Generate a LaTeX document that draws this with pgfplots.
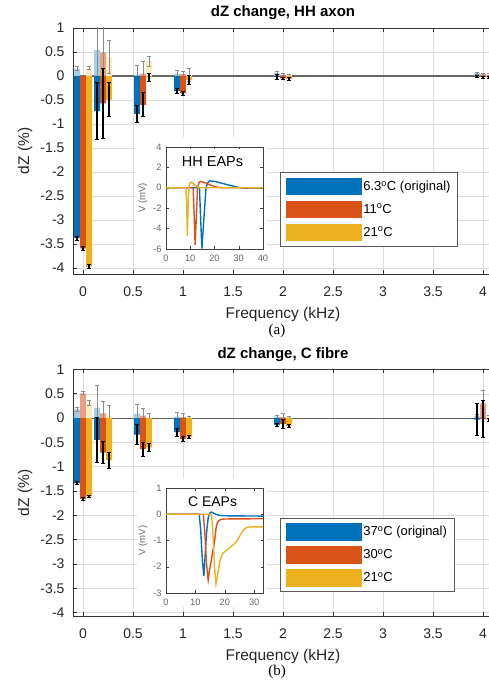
\documentclass[border=0pt]{standalone}
\usepackage{fontspec}
\setmainfont{Liberation Sans}
\newfontfamily\seriffont{Liberation Serif}
\usepackage{pgfplots}
\usepackage{pgfplotstable}
\pgfplotsset{compat=1.18}
\definecolor{mblue}{RGB}{0,114,189}
\definecolor{morange}{RGB}{217,83,25}
\definecolor{myellow}{RGB}{237,177,32}
\colorlet{lblue}{mblue!35!white}
\colorlet{lorange}{morange!55!white}
\colorlet{lyellow}{myellow!25!white}

% columns: group position x, then value and error of each bar
% d = dark bar, l = light bar; b/r/y = blue/red/yellow
\pgfplotstableread{
x    db    dbe   dr    dre   dy    dye   lb    lbe   lr    lre   ly    lye
0    -3.38 0.04  -3.59 0.04  -3.97 0.04  0.15  0.04  0.00  0.00  0.17  0.04
0.2  -0.73 0.60  -0.57 0.73  -0.49 0.36  0.54  0.60  0.49  0.65  0.40  0.35
0.6  -0.79 0.18  -0.60 0.25  -0.03 0.08  0.03  0.20  0.05  0.25  0.31  0.10
1    -0.31 0.05  -0.36 0.04  -0.08 0.10  0.05  0.06  0.04  0.06  0.02  0.14
2    -0.02 0.05  -0.05 0.03  -0.06 0.03  0.06  0.04  0.03  0.02  0.02  0.02
4    -0.01 0.02  -0.02 0.02  -0.03 0.02  0.06  0.02  0.04  0.02  0.03  0.02
}\tabA

\pgfplotstableread{
x    db    dbe   dr    dre   dy    dye   lb    lbe   lr    lre   ly    lye
0    -1.34 0.03  -1.66 0.03  -1.61 0.03  0.18  0.05  0.51  0.03  0.31  0.05
0.2  -0.45 0.47  -0.71 0.23  -0.87 0.16  0.21  0.46  0.10  0.24  0.05  0.21
0.6  -0.34 0.21  -0.64 0.14  -0.60 0.08  0.09  0.20  0.05  0.14  0.02  0.07
1    -0.29 0.08  -0.43 0.05  -0.39 0.03  0.03  0.09  0.02  0.07  0.01  0.03
2    -0.14 0.03  -0.12 0.10  -0.16 0.03  0.03  0.03  0.02  0.08  0.02  0.02
4    -0.03 0.33  -0.02 0.38  -0.03 0.03  0.05  0.03  0.30  0.28  0.03  0.03
}\tabB

\pgfplotsset{
  mainax/.style={
    scale only axis, anchor=south west, width=420pt,
    xmin=-0.1, xmax=4.1,
    xtick={0,0.5,1,1.5,2,2.5,3,3.5,4},
    xticklabels={0,0.5,1,1.5,2,2.5,3,3.5,4},
    ytick={-4,-3.5,-3,-2.5,-2,-1.5,-1,-0.5,0,0.5,1},
    yticklabels={-4,-3.5,-3,-2.5,-2,-1.5,-1,-0.5,0,0.5,1},
    /pgf/number format/assume math mode=true,
    tick label style={font=\fontsize{14}{14}\selectfont, text=black!85},
    xticklabel style={yshift=-9pt},
    yticklabel style={xshift=-5pt},
    grid=major, major grid style={black!13, line width=0.5pt},
    axis line style={black!80, line width=0.9pt},
    tick style={black!80, line width=0.8pt},
    major tick length=4pt, tick align=inside, ytick pos=left,
    xlabel={Frequency (kHz)}, ylabel={dZ (\%)},
    label style={font=\fontsize{15.5}{16}\selectfont, text=black!85},
    xlabel style={at={(axis description cs:0.5,-0.166)}, anchor=center},
    ylabel style={at={(axis description cs:-0.1143,0.5)}, anchor=center},
    legend image code/.code={\fill (0pt,-8.75pt) rectangle (76pt,8.75pt);},
    legend style={anchor=north west, draw=black!65, line width=0.6pt, fill=white,
      inner xsep=6pt, inner ysep=5pt, row sep=5.5pt,
      nodes={inner sep=1pt, anchor=west},
      font=\fontsize{13}{13}\selectfont,
      every odd column/.style={column sep=3pt}},
    legend cell align=left,
  },
  bars/.style={ybar, bar width=6pt, bar shift=0pt, draw=none, forget plot,
    error bars/y dir=both, error bars/y explicit,
    error bars/error mark=-},
  lightbar/.style={bars,
    error bars/error bar style={black!45, line width=1pt},
    error bars/error mark options={black!45, rotate=90, line width=0.8pt, mark size=1.8pt}},
  darkbar/.style={bars,
    error bars/error bar style={black, line width=1.1pt},
    error bars/error mark options={black, rotate=90, line width=0.8pt, mark size=1.8pt}},
  inset/.style={
    scale only axis, anchor=south west, width=97pt,
    axis background/.style={fill=white},
    axis line style={black!75, line width=0.5pt},
    tick style={black!75, line width=0.5pt},
    major tick length=2.5pt, tick align=inside,
    /pgf/number format/assume math mode=true,
    tick label style={font=\fontsize{9.3}{9.3}\selectfont, text=black!60},
    xticklabel style={yshift=-2pt},
    yticklabel style={xshift=-1pt},
    ylabel={V (mV)},
    ylabel style={at={(axis description cs:-0.237,0.5)}, anchor=center,
      font=\fontsize{9.5}{10}\selectfont, text=black!60},
    every axis plot/.append style={line width=1.4pt},
  },
}

\begin{document}
\begin{tikzpicture}[x=1pt,y=1pt]
\useasboundingbox (0pt,0pt) rectangle (488pt,683pt);

% ---------------- panel (a)
\begin{axis}[mainax, at={(73pt,409pt)}, height=246pt, ymin=-4.125, ymax=1,
  legend style={at={(0.493,0.413)}}]
\addplot[forget plot, black!60, line width=1.2pt] coordinates {(-0.1,0) (4.1,0)};
\addplot[lightbar, fill=lblue]   table[x expr=\thisrow{x}-0.06, y=lb, y error=lbe]{\tabA};
\addplot[lightbar, fill=lorange] table[x=x, y=lr, y error=lre]{\tabA};
\addplot[lightbar, fill=lyellow] table[x expr=\thisrow{x}+0.06, y=ly, y error=lye]{\tabA};
\addplot[darkbar,  fill=mblue]   table[x expr=\thisrow{x}-0.06, y=db, y error=dbe]{\tabA};
\addplot[darkbar,  fill=morange] table[x=x, y=dr, y error=dre]{\tabA};
\addplot[darkbar,  fill=myellow] table[x expr=\thisrow{x}+0.06, y=dy, y error=dye]{\tabA};
\addlegendimage{fill=mblue, draw=none}
\addlegendentry{6.3\textsuperscript{o}C (original)}
\addlegendimage{fill=morange, draw=none}
\addlegendentry{11\textsuperscript{o}C}
\addlegendimage{fill=myellow, draw=none}
\addlegendentry{21\textsuperscript{o}C}
\end{axis}
\node[font=\bfseries\fontsize{15}{16}\selectfont] at (283pt,670pt) {dZ change, HH axon};
\node[font=\seriffont\fontsize{15}{15}\selectfont] at (277pt,352pt) {(a)};

\fill[white] (135pt,417pt) rectangle (267pt,546pt);
\begin{axis}[inset, at={(166pt,434pt)}, height=102pt,
  xmin=0, xmax=40, ymin=-6, ymax=4,
  xtick={0,10,20,30,40}, xticklabels={0,10,20,30,40},
  ytick={-6,-4,-2,0,2,4}, yticklabels={-6,-4,-2,0,2,4}]
\addplot[mblue] coordinates {(0,0) (13.8,0) (14.2,-2.5) (14.8,-5.95) (15.5,-3.5) (16.5,0) (17.2,0.5) (18,0.68) (19,0.66) (21,0.58) (23,0.45) (25,0.32) (27,0.2) (29,0.08) (31,0.0) (33,-0.03) (36,-0.01) (40,0)};
\addplot[morange] coordinates {(0,0) (11.2,0) (11.6,-2.5) (12.0,-5.6) (12.5,-3) (13.0,0) (13.5,0.45) (14.2,0.62) (15,0.58) (16.5,0.45) (18,0.3) (20,0.12) (22,0.03) (24,0) (40,0)};
\addplot[myellow] coordinates {(0,0) (8.2,0) (8.5,-1.5) (8.8,-4.7) (9.1,-2) (9.4,0) (9.8,0.4) (10.4,0.55) (11,0.45) (12,0.25) (13,0.08) (14,0) (40,0)};
\node[font=\fontsize{14.5}{15}\selectfont] at (rel axis cs:0.48,0.86) {HH EAPs};
\end{axis}

% ---------------- panel (b)
\begin{axis}[mainax, at={(73pt,67pt)}, height=246.5pt, ymin=-4.07, ymax=1,
  legend style={at={(0.493,0.398)}}]
\addplot[forget plot, black!60, line width=1.2pt] coordinates {(-0.1,0) (4.1,0)};
\addplot[lightbar, fill=lblue]   table[x expr=\thisrow{x}-0.06, y=lb, y error=lbe]{\tabB};
\addplot[lightbar, fill=lorange] table[x=x, y=lr, y error=lre]{\tabB};
\addplot[lightbar, fill=lyellow] table[x expr=\thisrow{x}+0.06, y=ly, y error=lye]{\tabB};
\addplot[darkbar,  fill=mblue]   table[x expr=\thisrow{x}-0.06, y=db, y error=dbe]{\tabB};
\addplot[darkbar,  fill=morange] table[x=x, y=dr, y error=dre]{\tabB};
\addplot[darkbar,  fill=myellow] table[x expr=\thisrow{x}+0.06, y=dy, y error=dye]{\tabB};
\addlegendimage{fill=mblue, draw=none}
\addlegendentry{37\textsuperscript{o}C (original)}
\addlegendimage{fill=morange, draw=none}
\addlegendentry{30\textsuperscript{o}C}
\addlegendimage{fill=myellow, draw=none}
\addlegendentry{21\textsuperscript{o}C}
\end{axis}
\node[font=\bfseries\fontsize{15}{16}\selectfont] at (283pt,328pt) {dZ change, C fibre};
\node[font=\seriffont\fontsize{15}{15}\selectfont] at (277pt,11pt) {(b)};

\fill[white] (137pt,76pt) rectangle (267pt,205pt);
\begin{axis}[inset, at={(166pt,90pt)}, height=105pt,
  xmin=0, xmax=33, ymin=-3, ymax=1,
  xtick={0,10,20,30}, xticklabels={0,10,20,30},
  ytick={-3,-2,-1,0,1}, yticklabels={-3,-2,-1,0,1}]
\addplot[mblue] coordinates {(0,0) (11.3,0) (11.8,-0.6) (12.4,-1.8) (12.9,-2.35) (13.3,-1.6) (13.8,-0.7) (14.4,-0.1) (15.0,0.06) (15.6,0.08) (16.5,0.02) (18,-0.04) (21,-0.06) (33,-0.07)};
\addplot[morange] coordinates {(0,0) (12.7,0) (13.2,-0.7) (13.8,-1.9) (14.35,-2.5) (15.0,-2.0) (15.8,-1.5) (16.5,-1.05) (17.0,-0.55) (17.5,-0.3) (18.5,-0.2) (20,-0.18) (33,-0.17)};
\addplot[myellow] coordinates {(0,0) (15.5,0) (16.0,-0.8) (16.5,-2.0) (17.0,-2.65) (17.6,-2.3) (18.3,-1.8) (19.2,-1.5) (20.5,-1.38) (22,-1.25) (23.5,-1.1) (24.5,-0.95) (25.5,-0.75) (26.5,-0.58) (27.5,-0.5) (29,-0.48) (33,-0.48)};
\node[font=\fontsize{14}{14}\selectfont] at (rel axis cs:0.48,0.87) {C EAPs};
\end{axis}
\end{tikzpicture}
\end{document}
